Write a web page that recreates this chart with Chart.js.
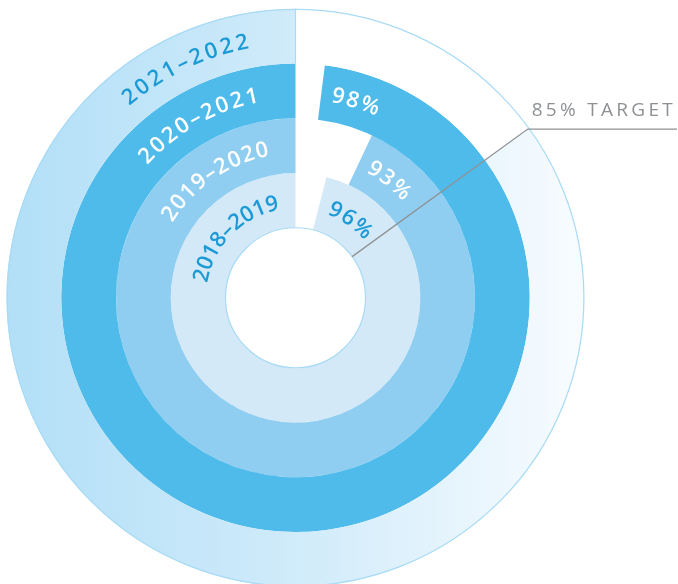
<!DOCTYPE html>
<html lang="en">
<head>
<meta charset="UTF-8">
<title>Scores by season</title>
<script src="https://cdn.jsdelivr.net/npm/chart.js"></script>
<style>
    html, body { margin: 0; padding: 0; background: #fff; overflow: hidden; }
    #ringChart { display: block; }
</style>
</head>
<body>
<canvas id="ringChart" width="678" height="587"></canvas>
<script>
    // outer ring first, innermost last
    const seasons = ['2021–2022', '2020–2021', '2019–2020', '2018–2019'];
    const scores = [85, 98, 93, 96];
    const showScore = [false, true, true, true];
    const targetValue = 85;
    const targetLabel = '85% TARGET';

    const ringColors = [null, '#4fbbea', '#8fcef1', '#d4e9f7'];
    const textColors = ['#1b9ad6', '#ffffff', '#ffffff', '#1b9ad6'];
    const yearSpacing = [3.4, 3.0, 2.0, 0.9];

    const FONT = '"Open Sans", "DejaVu Sans", sans-serif';

    function ringFill(i) {
        return function (context) {
            if (context.dataIndex === 0) return '#ffffff';
            if (i > 0) return ringColors[i];
            const area = context.chart.chartArea;
            if (!area) return '#cdeafa';
            const g = context.chart.ctx.createLinearGradient(area.left, 0, area.right, 0);
            g.addColorStop(0, '#b2dff7');
            g.addColorStop(0.5, '#d0ebfa');
            g.addColorStop(1, '#f8fcff');
            return g;
        };
    }

    const datasets = seasons.map((s, i) => ({
        label: s,
        data: [100 - scores[i], scores[i]],
        backgroundColor: ringFill(i),
        borderWidth: 0,
        hoverOffset: 0
    }));

    function textWidth(ctx, text, spacing) {
        let w = 0;
        for (const ch of text) w += ctx.measureText(ch).width + spacing;
        return w - spacing;
    }

    // glyphs run clockwise from angle a0, centred on radius r
    function arcText(ctx, text, cx, cy, r, a0, spacing, size) {
        let a = a0;
        for (const ch of text) {
            const w = ctx.measureText(ch).width;
            const mid = a + (w / 2) / r;
            ctx.save();
            ctx.translate(cx + r * Math.cos(mid), cy + r * Math.sin(mid));
            ctx.rotate(mid + Math.PI / 2);
            ctx.fillText(ch, 0, size * 0.36);
            ctx.restore();
            a += (w + spacing) / r;
        }
    }

    const ringDecor = {
        id: 'ringDecor',
        afterDatasetsDraw(chart) {
            const ctx = chart.ctx;
            const outer = chart.getDatasetMeta(0).data[1];
            const inner = chart.getDatasetMeta(seasons.length - 1).data[1];
            const cx = outer.x, cy = outer.y;
            const top = -Math.PI / 2;

            ctx.save();
            // thin outlines
            ctx.strokeStyle = '#a8dbf5';
            ctx.lineWidth = 1.2;
            ctx.beginPath();
            ctx.arc(cx, cy, outer.outerRadius - 0.6, 0, Math.PI * 2);
            ctx.stroke();
            ctx.beginPath();
            ctx.arc(cx, cy, inner.innerRadius, 0, Math.PI * 2);
            ctx.stroke();
            ctx.beginPath();
            ctx.moveTo(cx, cy - outer.innerRadius);
            ctx.lineTo(cx, cy - outer.outerRadius);
            ctx.stroke();

            // target marker
            const a = top + Math.PI * 2 * (1 - targetValue / 100);
            const r0 = inner.innerRadius, r1 = outer.outerRadius - 2;
            const ex = cx + r1 * Math.cos(a), ey = cy + r1 * Math.sin(a);
            ctx.strokeStyle = '#8f9295';
            ctx.lineWidth = 1.3;
            ctx.beginPath();
            ctx.moveTo(cx + r0 * Math.cos(a), cy + r0 * Math.sin(a));
            ctx.lineTo(ex, ey);
            ctx.lineTo(chart.width - 1, ey);
            ctx.stroke();

            ctx.fillStyle = '#8e9194';
            ctx.font = '500 19px ' + FONT;
            ctx.letterSpacing = '3.3px';
            ctx.textAlign = 'left';
            ctx.textBaseline = 'alphabetic';
            ctx.fillText(targetLabel, ex + 4, ey - 13);
            ctx.letterSpacing = '0px';

            // season names and scores along each ring
            ctx.textAlign = 'center';
            seasons.forEach((s, i) => {
                const arc = chart.getDatasetMeta(i).data[1];
                const r = (arc.innerRadius + arc.outerRadius) / 2;
                ctx.fillStyle = textColors[i];

                const ys = 22;
                ctx.font = '600 ' + ys + 'px ' + FONT;
                const end = top - 10.5 * Math.PI / 180;
                const w = textWidth(ctx, s, yearSpacing[i]);
                arcText(ctx, s, cx, cy, r, end - w / r, yearSpacing[i], ys);

                if (showScore[i]) {
                    const vs = 22;
                    ctx.font = '600 ' + vs + 'px ' + FONT;
                    arcText(ctx, scores[i] + '%', cx, cy, r, arc.startAngle + 11 / r, 2.5, vs);
                }
            });
            ctx.restore();
        }
    };

    new Chart(document.getElementById('ringChart'), {
        type: 'doughnut',
        data: { labels: ['gap', 'score'], datasets: datasets },
        options: {
            responsive: false,
            animation: false,
            cutout: 70,
            rotation: 0,
            layout: { padding: { left: 6.5, top: 8.5, right: 93.5, bottom: 0 } },
            plugins: { legend: { display: false }, tooltip: { enabled: false } },
            events: []
        },
        plugins: [ringDecor]
    });
</script>
</body>
</html>
